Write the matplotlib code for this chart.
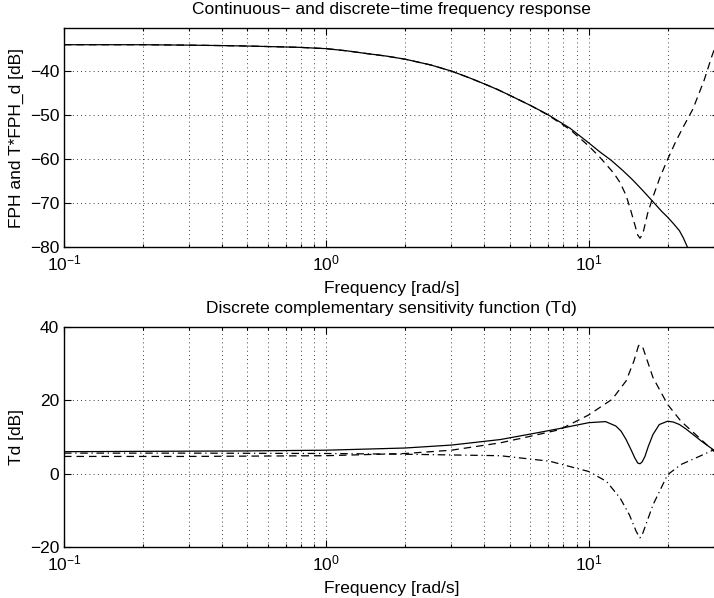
import numpy as np
import matplotlib
matplotlib.use('Agg')
import matplotlib.pyplot as plt
from matplotlib.ticker import LogLocator, NullFormatter

plt.rcParams['font.family'] = 'Liberation Sans'
plt.rcParams['mathtext.fontset'] = 'custom'
plt.rcParams['mathtext.rm'] = 'Liberation Sans'
plt.rcParams['mathtext.default'] = 'regular'
plt.rcParams['font.size'] = 12.5

# top: continuous-time FPH (solid) and discrete T*FPH_d (dashed)
f_fph = [0.1, 0.2, 0.3, 0.4, 0.5, 0.63, 0.79, 1.0, 1.2, 1.42, 1.7, 2.0, 2.5, 3.0,
         3.5, 4.0, 4.5, 5.0, 6.0, 7.0, 8.5, 10.0, 11.0, 12.2, 13.5, 14.7, 16.0,
         17.6, 19.0, 20.0, 21.0, 22.2, 23.0, 23.8, 24.5]
db_fph = [-34.0, -34.0, -34.1, -34.2, -34.3, -34.45, -34.6, -34.9, -35.4, -36.0,
          -36.6, -37.3, -38.6, -40.0, -41.5, -42.9, -44.2, -45.5, -47.8, -49.9,
          -53.0, -56.3, -58.3, -60.3, -62.6, -64.7, -67.0, -69.7, -71.9, -73.2,
          -74.6, -76.3, -78.0, -80.0, -81.8]

f_fphd = [0.1, 0.2, 0.3, 0.4, 0.5, 0.63, 0.79, 1.0, 1.2, 1.42, 1.7, 2.0, 2.5,
          3.0, 3.5, 4.0, 4.5, 5.0, 6.0, 7.0, 8.5, 10.0, 11.0, 11.7, 12.5, 13.2,
          13.9, 14.4, 14.9, 15.4, 15.7, 16.1, 16.8, 17.6, 18.7, 20.0, 21.5, 23.0,
          25.0, 27.6, 29.4, 31.4]
db_fphd = [-34.0, -34.0, -34.1, -34.2, -34.3, -34.45, -34.6, -34.9, -35.4, -36.0,
           -36.6, -37.3, -38.6, -40.0, -41.5, -42.9, -44.2, -45.5, -47.8, -50.0,
           -53.3, -57.0, -59.5, -61.3, -63.3, -65.4, -68.3, -71.2, -74.3, -77.3,
           -78.0, -77.0, -72.3, -68.6, -64.2, -60.1, -56.0, -52.6, -48.6, -42.0,
           -36.9, -32.0]

# bottom: Td (solid) and two dashed / dash-dot bounds
f_td = [0.1, 0.5, 1.0, 2.0, 3.0, 4.6, 6.0, 7.75, 10.0, 11.6, 12.7, 13.3, 13.9,
        14.5, 15.0, 15.4, 15.7, 16.0, 16.4, 16.9, 17.6, 18.6, 20.0, 21.0, 22.2,
        23.5, 25.0, 27.0, 29.8, 31.4]
db_td = [6.0, 6.2, 6.4, 7.0, 7.8, 9.3, 10.8, 12.3, 13.9, 14.2, 13.0, 11.6, 9.3,
         6.6, 4.3, 2.9, 2.7, 3.2, 4.7, 7.5, 10.7, 13.4, 14.3, 14.1, 13.4, 12.2,
         10.7, 8.8, 6.6, 5.6]

f_up = [0.1, 0.3, 1.0, 2.0, 3.0, 4.6, 6.0, 7.75, 10.0, 12.3, 13.9, 14.9, 15.5,
        15.7, 16.1, 17.6, 20.0, 22.5, 26.4, 29.8, 31.4]
db_up = [4.7, 4.7, 4.9, 5.5, 6.4, 8.4, 10.2, 12.0, 16.0, 20.3, 25.3, 30.8, 34.9,
         35.2, 34.4, 26.2, 18.9, 14.3, 9.8, 6.3, 5.2]

f_lo = [0.1, 0.3, 1.0, 2.0, 4.6, 7.1, 10.0, 11.7, 13.2, 14.3, 15.2, 15.7, 16.1,
        17.6, 20.0, 22.5, 26.4, 29.8, 31.4]
db_lo = [5.6, 5.6, 5.5, 5.3, 4.9, 3.4, 0.6, -2.1, -6.7, -11.2, -15.8, -17.5,
         -16.2, -8.5, -0.3, 2.5, 4.7, 6.4, 6.9]


def style(ax, ylim, yticks):
    ax.set_xscale('log')
    ax.set_xlim(0.1, 10*np.pi)
    ax.set_ylim(ylim)
    ax.set_yticks(yticks)
    ax.xaxis.set_major_locator(LogLocator(base=10))
    ax.xaxis.set_minor_locator(LogLocator(base=10, subs=np.arange(2, 10)))
    ax.xaxis.set_minor_formatter(NullFormatter())
    ax.tick_params(which='both', direction='in', top=True, right=True, width=0.8)
    ax.tick_params(which='major', length=5)
    ax.tick_params(axis='x', which='major', pad=5)
    ax.tick_params(which='minor', length=2.5)
    ax.grid(True, which='both', axis='x', linestyle=(0, (1, 4)), color='k', lw=0.6)
    ax.grid(True, which='major', axis='y', linestyle=(0, (1, 4)), color='k', lw=0.6)
    for s in ax.spines.values():
        s.set_linewidth(1.0)
    ax.set_xlabel('Frequency [rad/s]', labelpad=5)


fig = plt.figure(figsize=(7.14, 5.98), dpi=100)

ax1 = fig.add_axes([64/714, 1-247/598, 655/714, 219/598])
ax1.plot(f_fph, db_fph, 'k-', lw=0.9)
ax1.plot(f_fphd, db_fphd, 'k--', lw=0.9, dashes=(6, 4))
style(ax1, (-80, -30.2), [-80, -70, -60, -50, -40])
ax1.set_ylabel('FPH and T*FPH_d [dB]')
ax1.set_title('Continuous\u2212 and discrete\u2212time frequency response', fontsize=12.5, pad=10)

ax2 = fig.add_axes([64/714, 1-547/598, 655/714, 220/598])
ax2.plot(f_td, db_td, 'k-', lw=0.9)
ax2.plot(f_up, db_up, 'k--', lw=0.9, dashes=(6, 4))
ax2.plot(f_lo, db_lo, 'k-.', lw=0.9, dashes=(6, 3, 1, 3))
style(ax2, (-20, 40), [-20, 0, 20, 40])
ax2.set_ylabel('Td [dB]')
ax2.set_title('Discrete complementary sensitivity function (Td)', fontsize=12.5, pad=10)

fig.savefig('out.png', dpi=100)
